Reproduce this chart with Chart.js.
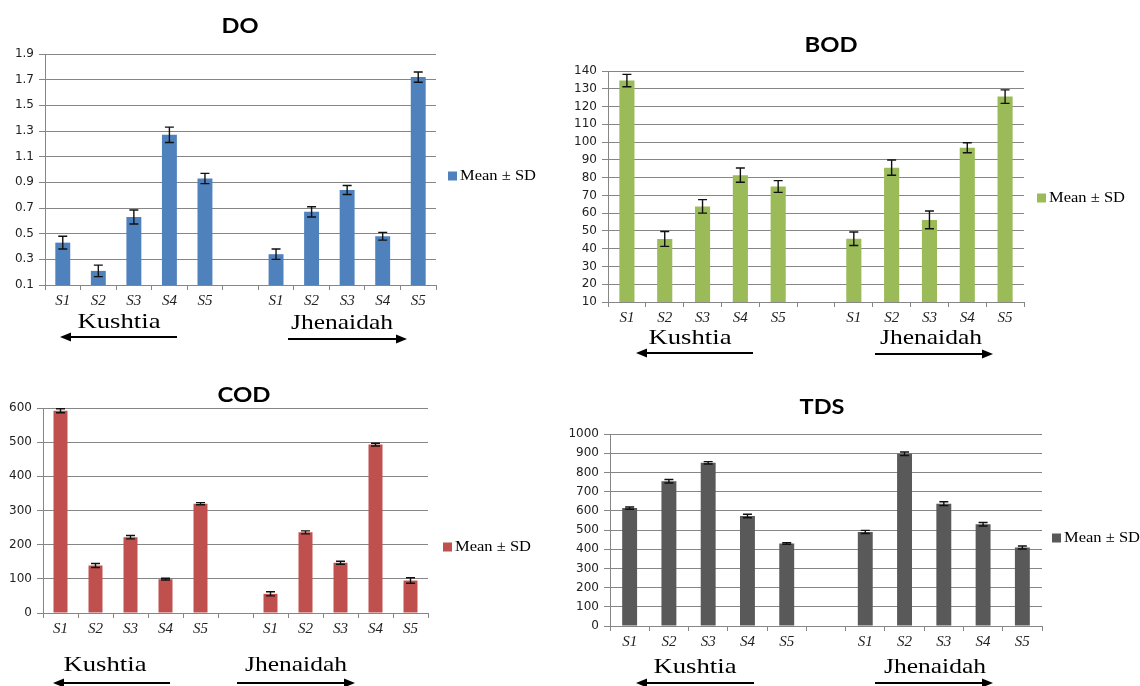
<!DOCTYPE html>
<html>
<head>
<meta charset="utf-8">
<script src="https://cdn.jsdelivr.net/npm/chart.js@4/dist/chart.umd.min.js"></script>
<style>
html,body{margin:0;padding:0;background:#fff;}
#wrap{position:relative;width:1140px;height:686px;overflow:hidden;background:#fff;}
#wrap canvas{position:absolute;left:0;top:0;}
</style>
</head>
<body>
<div id="wrap">
<canvas id="cDO" width="1140" height="686"></canvas>
<canvas id="cBOD" width="1140" height="686"></canvas>
<canvas id="cCOD" width="1140" height="686"></canvas>
<canvas id="cTDS" width="1140" height="686"></canvas>
</div>
<script>
// ---------- data ----------
const categories = ["S1","S2","S3","S4","S5","","S1","S2","S3","S4","S5"];
const regionNames = ["Kushtia","Jhenaidah"];
const legendLabel = "Mean ± SD";

const doMean  = [0.43,0.21,0.63,1.27,0.93,null,0.34,0.67,0.84,0.48,1.72];
const doSD    = [0.05,0.045,0.055,0.06,0.04,null,0.04,0.04,0.035,0.03,0.04];
const doTicks = [0.1,0.3,0.5,0.7,0.9,1.1,1.3,1.5,1.7,1.9];

const bodMean  = [134.6,45.5,63.8,81.4,75,null,45.6,85.6,56.2,96.8,125.6];
const bodSD    = [3.5,4.2,3.8,4,3.3,null,3.8,4.3,5,2.8,3.8];
const bodTicks = [10,20,30,40,50,60,70,80,90,100,110,120,130,140];

const codMean  = [592,139,222,99,320,null,56,236,147,493,95];
const codSD    = [6,6,5,2.5,3,null,6,4.5,4.5,4,8];
const codTicks = [0,100,200,300,400,500,600];

const tdsMean  = [614,754,850,573,430,null,490,897,637,530,409];
const tdsSD    = [6,9,6,9,4,null,8,9,10,9,8];
const tdsTicks = [0,100,200,300,400,500,600,700,800,900,1000];

// ---------- layout / style ----------
const W = 1140, H = 686, X_AXIS_H = 30;
const GRID = '#868686';

const charts = [
  { id:'cDO', title:'DO', mean:doMean, sd:doSD, ticks:doTicks, dec:1, color:'#4F81BD', bar:0.42, yw:42,
    L:45, R:436, T:54, B:285,
    titlePos:[240,26,37], legendPos:[448,176], kush:[119,322], kushArrow:[60,177,337], jhen:[342,323], jhenArrow:[288,407,339] },
  { id:'cBOD', title:'BOD', mean:bodMean, sd:bodSD, ticks:bodTicks, dec:0, color:'#9BBB59', bar:0.4, yw:50,
    L:608, R:1024, T:71, B:302,
    titlePos:[831,45,53], legendPos:[1037,198], kush:[690,338], kushArrow:[636,753,353], jhen:[931,338], jhenArrow:[875,993,354] },
  { id:'cCOD', title:'COD', mean:codMean, sd:codSD, ticks:codTicks, dec:0, color:'#C0504D', bar:0.4, yw:42,
    L:43, R:428, T:408, B:613,
    titlePos:[244,395,53], legendPos:[443,547], kush:[105,665], kushArrow:[53,170,683], jhen:[296,665], jhenArrow:[237,355,683] },
  { id:'cTDS', title:'TDS', mean:tdsMean, sd:tdsSD, ticks:tdsTicks, dec:0, color:'#595959', bar:0.38, yw:50,
    L:610, R:1042, T:434, B:626,
    titlePos:[822,407,45], legendPos:[1052,538], kush:[695,667], kushArrow:[636,754,683], jhen:[935,667], jhenArrow:[875,993,683] }
];

function drawText(ctx, text, x, y, font, targetW, align, color) {
  ctx.save();
  ctx.font = font;
  const w = ctx.measureText(text).width;
  const sx = targetW ? targetW / w : 1;
  ctx.translate(x, y);
  ctx.scale(sx, 1);
  ctx.textAlign = align;
  ctx.textBaseline = 'middle';
  ctx.fillStyle = color;
  ctx.fillText(text, 0, 0);
  ctx.restore();
}

function drawArrow(ctx, x1, x2, y, dir) {
  ctx.save();
  ctx.strokeStyle = '#000'; ctx.fillStyle = '#000'; ctx.lineWidth = 2;
  const head = 11, hw = 4.5;
  ctx.beginPath();
  if (dir < 0) { ctx.moveTo(x1 + head - 1, y); ctx.lineTo(x2, y); }
  else { ctx.moveTo(x1, y); ctx.lineTo(x2 - head + 1, y); }
  ctx.stroke();
  ctx.beginPath();
  if (dir < 0) { ctx.moveTo(x1, y); ctx.lineTo(x1 + head, y - hw); ctx.lineTo(x1 + head, y + hw); }
  else { ctx.moveTo(x2, y); ctx.lineTo(x2 - head, y - hw); ctx.lineTo(x2 - head, y + hw); }
  ctx.closePath(); ctx.fill();
  ctx.restore();
}

const errorBarPlugin = {
  id: 'errorBars',
  afterDatasetsDraw(chart) {
    const ctx = chart.ctx, ys = chart.scales.y;
    chart.data.datasets.forEach((ds, di) => {
      const meta = chart.getDatasetMeta(di);
      meta.data.forEach((bar, i) => {
        const v = ds.data[i], e = ds.errors[i];
        if (v == null || e == null) return;
        const x = bar.x;
        const yt = ys.getPixelForValue(v + e), yb = ys.getPixelForValue(v - e);
        ctx.save();
        ctx.strokeStyle = '#111'; ctx.lineWidth = 1.4;
        ctx.beginPath();
        ctx.moveTo(x, yt); ctx.lineTo(x, yb);
        ctx.moveTo(x - 4.5, yt); ctx.lineTo(x + 4.5, yt);
        ctx.moveTo(x - 4.5, yb); ctx.lineTo(x + 4.5, yb);
        ctx.stroke();
        ctx.restore();
      });
    });
  }
};

const annotPlugin = {
  id: 'annot',
  afterDraw(chart) {
    const c = chart.options.plugins.annot;
    const ctx = chart.ctx;
    drawText(ctx, c.title, c.titlePos[0], c.titlePos[1], 'bold 21px Lato', c.titlePos[2], 'center', '#000');
    // legend
    ctx.save(); ctx.fillStyle = c.color;
    ctx.fillRect(c.legendPos[0], c.legendPos[1] - 4.5, 9, 9); ctx.restore();
    drawText(ctx, legendLabel, c.legendPos[0] + 12, c.legendPos[1], '14px "Liberation Serif"', 76, 'left', '#000');
    // region labels
    drawText(ctx, regionNames[0], c.kush[0], c.kush[1], '22px "Liberation Serif"', 83, 'center', '#000');
    drawText(ctx, regionNames[1], c.jhen[0], c.jhen[1], '22px "Liberation Serif"', 102, 'center', '#000');
    drawArrow(ctx, c.kushArrow[0], c.kushArrow[1], c.kushArrow[2], -1);
    drawArrow(ctx, c.jhenArrow[0], c.jhenArrow[1], c.jhenArrow[2], 1);
  }
};

charts.forEach(c => {
  const tickVals = c.ticks;
  new Chart(document.getElementById(c.id), {
    type: 'bar',
    data: {
      labels: categories,
      datasets: [{
        label: legendLabel,
        data: c.mean,
        errors: c.sd,
        backgroundColor: c.color,
        borderWidth: 0,
        barPercentage: c.bar,
        categoryPercentage: 1
      }]
    },
    options: {
      responsive: false,
      animation: false,
      devicePixelRatio: 1,
      layout: { padding: { left: c.L - c.yw, right: W - c.R, top: c.T, bottom: H - c.B - X_AXIS_H } },
      plugins: {
        legend: { display: false },
        tooltip: { enabled: false },
        title: { display: false },
        annot: { title: c.title, titlePos: c.titlePos, legendPos: c.legendPos, color: c.color,
                 kush: c.kush, kushArrow: c.kushArrow, jhen: c.jhen, jhenArrow: c.jhenArrow }
      },
      scales: {
        x: {
          offset: true,
          afterFit: s => { s.height = X_AXIS_H; },
          grid: { offset: true, drawOnChartArea: false, drawTicks: true, tickLength: 5, color: GRID, lineWidth: 1 },
          border: { display: true, color: GRID, width: 1 },
          ticks: { autoSkip: false, maxRotation: 0, padding: 2, color: '#222',
                   font: { family: '"Liberation Serif"', style: 'italic', size: 15 } }
        },
        y: {
          min: tickVals[0],
          max: tickVals[tickVals.length - 1],
          afterFit: s => { s.width = c.yw; },
          afterBuildTicks: s => { s.ticks = tickVals.map(v => ({ value: v })); },
          grid: { drawOnChartArea: true, drawTicks: true, tickLength: 6, color: GRID, lineWidth: 1 },
          border: { display: true, color: GRID, width: 1 },
          ticks: { padding: 5, color: '#222', font: { family: '"DejaVu Sans"', size: 12 },
                   callback: v => Number(v).toFixed(c.dec) }
        }
      }
    },
    plugins: [errorBarPlugin, annotPlugin]
  });
});
</script>
</body>
</html>
